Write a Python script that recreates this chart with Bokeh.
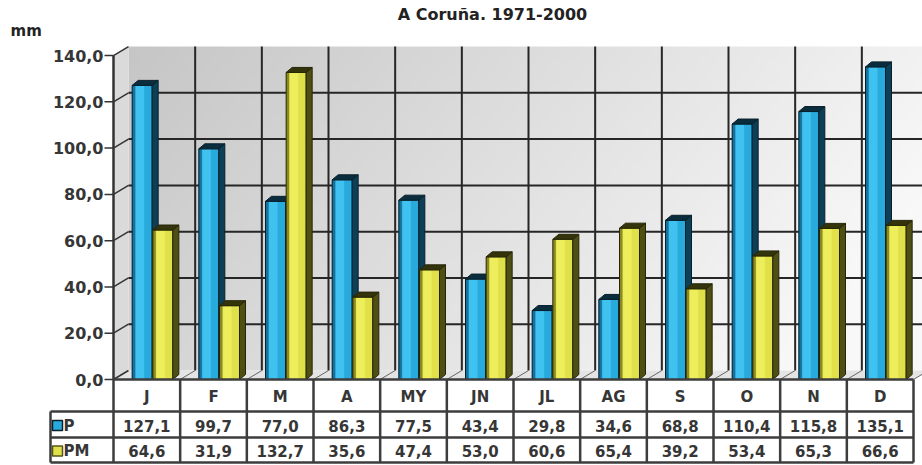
import numpy as np
from bokeh.plotting import figure
from bokeh.models import Range1d, ColumnDataSource
from bokeh.core.properties import value
from bokeh.embed import file_html
from bokeh.resources import INLINE

# ---------------- data ----------------
chart_title = "A Coruña. 1971-2000"
unit_label = "mm"
months = ["J", "F", "M", "A", "MY", "JN", "JL", "AG", "S", "O", "N", "D"]
series_names = ["P", "PM"]
P = [127.1, 99.7, 77.0, 86.3, 77.5, 43.4, 29.8, 34.6, 68.8, 110.4, 115.8, 135.1]
PM = [64.6, 31.9, 132.7, 35.6, 47.4, 53.0, 60.6, 65.4, 39.2, 53.4, 65.3, 66.6]
tick_values = [0, 20, 40, 60, 80, 100, 120, 140]
tick_labels = ["0,0", "20,0", "40,0", "60,0", "80,0", "100,0", "120,0", "140,0"]

def fmt(v):
    return f"{v:.1f}".replace(".", ",")

# ---------------- layout ----------------
W, H = 922, 465
KX = 800 / 12.0      # px per category
KY = 2.314           # px per mm
X0, Y0 = 113, 379    # px of (x=0, y=0)

def ux(X):
    return (X - X0) / KX

def uy(Y):
    return (Y0 - Y) / KY

n = len(months)
ymax = tick_values[-1]
DX, DY = 15 / KX, 9 / KY      # wall depth
BDX, BDY = 6 / KX, 5 / KY     # bar depth
BW = 0.30
offsets = [0.28, 0.59]

FONT = value("DejaVu Sans")
TXT = "#363636"

p = figure(width=W, height=H,
           x_range=Range1d(ux(0), ux(W)),
           y_range=Range1d(uy(H), uy(0)),
           x_axis_location=None, y_axis_location=None,
           output_backend="svg", toolbar_location=None, min_border=0,
           tools="")
p.outline_line_color = None
p.background_fill_color = "white"
p.border_fill_color = "white"
p.xgrid.visible = False
p.ygrid.visible = False

# ---------------- back wall with gradient ----------------
nx, ny = 240, 100
uu = np.linspace(0, 1, nx)[None, :]
vv = np.linspace(0, 1, ny)[:, None]          # 0 bottom .. 1 top
g = np.clip(198 + 44 * uu + 14 * (1 - vv), 0, 248).astype(np.uint8)
img = np.empty((ny, nx), dtype=np.uint32)
view = img.view(dtype=np.uint8).reshape((ny, nx, 4))
view[..., 0] = g
view[..., 1] = g
view[..., 2] = g
view[..., 3] = 255
p.image_rgba(image=[img], x=DX, y=DY, dw=n, dh=ymax)

# left side wall and floor
p.patch(x=[0, 0, DX, DX], y=[0, ymax, ymax + DY, DY], fill_color="#dadada", line_color=None)
p.patch(x=[0, n, n + DX, DX], y=[0, 0, DY, DY], fill_color="#e4e4e4", line_color=None)

# wall grid
hg = tick_values[1:-1]
p.segment(x0=[DX] * len(hg), y0=[t + DY for t in hg], x1=[n + DX] * len(hg), y1=[t + DY for t in hg],
          line_color="#262626", line_width=2)
vg = list(range(1, n))
p.segment(x0=[i + DX for i in vg], y0=[DY] * len(vg), x1=[i + DX for i in vg], y1=[ymax + DY] * len(vg),
          line_color="#262626", line_width=2)

# floor connectors
fc = list(range(1, n + 1))
p.segment(x0=fc, y0=[0] * len(fc), x1=[i + DX for i in fc], y1=[DY] * len(fc),
          line_color="#666666", line_width=1)

# axis line, ticks, connectors
p.segment(x0=[0], y0=[0], x1=[0], y1=[ymax], line_color="#333333", line_width=2.5)
p.segment(x0=[ux(104)] * len(tick_values), y0=tick_values, x1=[0] * len(tick_values), y1=tick_values,
          line_color="#333333", line_width=1.5)
p.segment(x0=[0] * len(tick_values), y0=tick_values, x1=[DX] * len(tick_values),
          y1=[t + DY for t in tick_values], line_color="#333333", line_width=1.5)
p.text(x=[ux(103)] * len(tick_values), y=tick_values, text=tick_labels,
       text_align="right", text_baseline="middle", text_font=FONT,
       text_font_size="16px", text_font_style="bold", text_color=TXT)

# ---------------- 3D bars ----------------
styles = [
    dict(face="#29aadd", bright="#40c2f0", edge="#16719b", side="#0d3f57", top="#0a2d3e", line="#08202c"),
    dict(face="#e0e04a", bright="#eeee5c", edge="#8a8a22", side="#4f4f15", top="#34340c", line="#262606"),
]
for vals, off, st in zip([P, PM], offsets, styles):
    left = [i + off for i in range(n)]
    right = [l + BW for l in left]
    src = ColumnDataSource(dict(left=left, right=right, top=vals, bottom=[0] * n))
    p.quad(left="left", right="right", bottom="bottom", top="top", source=src,
           fill_color=st["face"], line_color=None)
    p.quad(left=[l + BW * 0.18 for l in left], right=[l + BW * 0.6 for l in left],
           bottom=[0] * n, top=vals, fill_color=st["bright"], line_color=None)
    p.quad(left=left, right=[l + 3 / KX for l in left], bottom=[0] * n, top=vals,
           fill_color=st["edge"], line_color=None)
    p.quad(left="left", right="right", bottom="bottom", top="top", source=src,
           fill_color=None, line_color=st["line"], line_width=1)
    side_xs = [[r, r + BDX, r + BDX, r] for r in right]
    side_ys = [[0, BDY, v + BDY, v] for v in vals]
    p.patches(xs=side_xs, ys=side_ys, fill_color=st["side"], line_color=st["line"], line_width=1)
    top_xs = [[l, r, r + BDX, l + BDX] for l, r in zip(left, right)]
    top_ys = [[v, v, v + BDY, v + BDY] for v in vals]
    p.patches(xs=top_xs, ys=top_ys, fill_color=st["top"], line_color=st["line"], line_width=1)

# ---------------- data table ----------------
row_Y = [379, 411, 437, 462]
LEG_X = 50
LC = "#3d3d3d"
p.segment(x0=[0], y0=[uy(row_Y[0])], x1=[n], y1=[uy(row_Y[0])], line_color=LC, line_width=2.5)
p.segment(x0=[ux(LEG_X)] * 3, y0=[uy(Y) for Y in row_Y[1:]], x1=[n] * 3, y1=[uy(Y) for Y in row_Y[1:]],
          line_color=LC, line_width=2.5)
cols = list(range(0, n + 1))
p.segment(x0=cols, y0=[uy(row_Y[0])] * len(cols), x1=cols, y1=[uy(row_Y[-1])] * len(cols),
          line_color=LC, line_width=2.5)
p.segment(x0=[ux(LEG_X)], y0=[uy(row_Y[1])], x1=[ux(LEG_X)], y1=[uy(row_Y[-1])],
          line_color=LC, line_width=2.5)

centers = [i + 0.5 for i in range(n)]
rowc = [uy((row_Y[k] + row_Y[k + 1]) / 2 + 1) for k in range(3)]
p.text(x=centers, y=[rowc[0]] * n, text=months, text_align="center", text_baseline="middle",
       text_font=FONT, text_font_size="15px", text_font_style="bold", text_color=TXT)
for k, vals in enumerate([P, PM]):
    p.text(x=centers, y=[rowc[k + 1]] * n, text=[fmt(v) for v in vals],
           text_align="center", text_baseline="middle",
           text_font=FONT, text_font_size="15px", text_font_style="bold", text_color=TXT)

# legend cells
p.scatter(x=[ux(57)] * 2, y=rowc[1:], marker="square", size=10,
          fill_color=[styles[0]["face"], styles[1]["face"]],
          line_color=[styles[0]["line"], "#55551a"], line_width=1.5)
p.text(x=[ux(63)] * 2, y=rowc[1:], text=series_names, text_align="left", text_baseline="middle",
       text_font=FONT, text_font_size="15px", text_font_style="bold", text_color=TXT)

# ---------------- title and unit ----------------
p.text(x=[ux(492)], y=[uy(14)], text=[chart_title], text_align="center", text_baseline="middle",
       text_font=FONT, text_font_size="16px", text_font_style="bold", text_color="#222222")
p.text(x=[ux(10)], y=[uy(30)], text=[unit_label], text_align="left", text_baseline="middle",
       text_font=FONT, text_font_size="15px", text_font_style="bold", text_color="#222222")

open("out.html", "w").write(file_html(p, INLINE))
